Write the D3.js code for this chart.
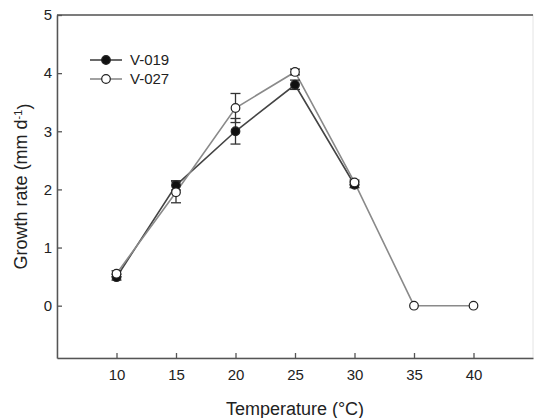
<!DOCTYPE html>
<html>
<head>
<meta charset="utf-8">
<script src="https://cdn.jsdelivr.net/npm/d3@7"></script>
<style>
  body { margin: 0; background: #fff; }
  text { font-family: "Liberation Sans", Arial, sans-serif; fill: #222; }
</style>
</head>
<body>
<div id="canvas"></div>
<script>
// DATA
const temps = [10, 15, 20, 25, 30, 35, 40];
const v019 = [0.49, 2.07, 3.0, 3.8, 2.08];
const v019Err = [0.05, 0.08, 0.22, 0.08, 0.05];
const v027 = [0.55, 1.95, 3.4, 4.02, 2.12, 0, 0];
const v027Err = [0.05, 0.18, 0.25, 0.05, 0.04, 0, 0];
const yTicks = [0, 1, 2, 3, 4, 5];
const xTicks = [10, 15, 20, 25, 30, 35, 40];

// DIMENSIONS
const width = 534;
const height = 418;
const margin = { top: 15, right: 1, bottom: 60, left: 57 };
const plot_width = width - margin.left - margin.right;
const plot_height = height - margin.top - margin.bottom;

const svg = d3.select("#canvas").append("svg")
  .attr("width", width).attr("height", height);

const plot = svg.append("g")
  .attr("transform", `translate(${margin.left}, ${margin.top})`);

// SCALES
const xScale = d3.scaleLinear().domain([5, 45]).range([0, plot_width]);
const yScale = d3.scaleLinear().domain([-0.9, 5]).range([plot_height, 0]);

// FRAME
plot.append("rect")
  .attr("width", plot_width).attr("height", plot_height)
  .attr("fill", "none").attr("stroke", "#e4e4e4").attr("stroke-width", 1);
plot.append("line").attr("x1", 0).attr("x2", plot_width).attr("y1", 0).attr("y2", 0)
  .attr("stroke", "#555").attr("stroke-width", 1.5);

// AXES
const xAx = d3.axisBottom(xScale).tickValues(xTicks).tickFormat(d3.format("d"))
  .tickSizeInner(-5).tickSizeOuter(0).tickPadding(11);
const yAx = d3.axisLeft(yScale).tickValues(yTicks).tickFormat(d3.format("d"))
  .tickSizeInner(-5).tickSizeOuter(0).tickPadding(5);

const xAxisHolder = plot.append("g").attr("transform", `translate(0, ${plot_height})`).call(xAx);
const yAxisHolder = plot.append("g").call(yAx);

[xAxisHolder, yAxisHolder].forEach(g => {
  g.selectAll("path").attr("stroke", "#555").attr("stroke-width", 1.5);
  g.selectAll("line").attr("stroke", "#555").attr("stroke-width", 1.3);
  g.selectAll("text").style("font-size", "15px").attr("fill", "#222");
});

// LINES
const lineGen = d3.line().x(d => xScale(d[0])).y(d => yScale(d[1]));
const series = [
  { vals: v019, err: v019Err, stroke: "#444", fill: "#111" },
  { vals: v027, err: v027Err, stroke: "#8a8a8a", fill: "#fff" }
];

series.forEach(s => {
  const pts = s.vals.map((v, i) => [temps[i], v, s.err[i]]);
  plot.append("path").datum(pts)
    .attr("d", lineGen).attr("fill", "none")
    .attr("stroke", s.stroke).attr("stroke-width", 1.6);
});

// ERROR BARS
series.forEach(s => {
  const pts = s.vals.map((v, i) => [temps[i], v, s.err[i]]).filter(d => d[2] > 0);
  const eb = plot.append("g").selectAll("g").data(pts).join("g");
  eb.append("line")
    .attr("x1", d => xScale(d[0])).attr("x2", d => xScale(d[0]))
    .attr("y1", d => yScale(d[1] - d[2])).attr("y2", d => yScale(d[1] + d[2]))
    .attr("stroke", "#333").attr("stroke-width", 1.3);
  [-1, 1].forEach(sign => {
    eb.append("line")
      .attr("x1", d => xScale(d[0]) - 5).attr("x2", d => xScale(d[0]) + 5)
      .attr("y1", d => yScale(d[1] + sign * d[2])).attr("y2", d => yScale(d[1] + sign * d[2]))
      .attr("stroke", "#333").attr("stroke-width", 1.3);
  });
});

// MARKERS
series.forEach(s => {
  const pts = s.vals.map((v, i) => [temps[i], v]);
  plot.append("g").selectAll("circle").data(pts).join("circle")
    .attr("cx", d => xScale(d[0])).attr("cy", d => yScale(d[1]))
    .attr("r", 4.3)
    .attr("fill", s.fill).attr("stroke", "#222").attr("stroke-width", 1.2);
});

// LEGEND
const legendNames = ["V-019", "V-027"];
const legend = svg.append("g").attr("transform", "translate(90, 60)");
legendNames.forEach((name, i) => {
  const s = series[i];
  const row = legend.append("g").attr("transform", `translate(0, ${i * 19})`);
  row.append("line").attr("x1", 0).attr("x2", 32).attr("y1", 0).attr("y2", 0)
    .attr("stroke", s.stroke).attr("stroke-width", 1.6);
  row.append("circle").attr("cx", 16).attr("cy", 0).attr("r", 4.3)
    .attr("fill", s.fill).attr("stroke", "#222").attr("stroke-width", 1.2);
  row.append("text").attr("x", 40).attr("y", 0).attr("dy", "0.36em")
    .style("font-size", "15px").text(name);
});

// LABELS
svg.append("text")
  .attr("x", margin.left + xScale(25)).attr("y", 415)
  .attr("text-anchor", "middle").style("font-size", "18px")
  .text("Temperature (°C)");

const yl = svg.append("text")
  .attr("transform", `translate(27, ${margin.top + yScale(2.05)}) rotate(-90)`)
  .attr("text-anchor", "middle").style("font-size", "18px");
yl.append("tspan").text("Growth rate (mm d");
yl.append("tspan").attr("dy", "-0.45em").style("font-size", "11px").text("-1");
yl.append("tspan").attr("dy", "0.45em").text(")");
</script>
</body>
</html>
